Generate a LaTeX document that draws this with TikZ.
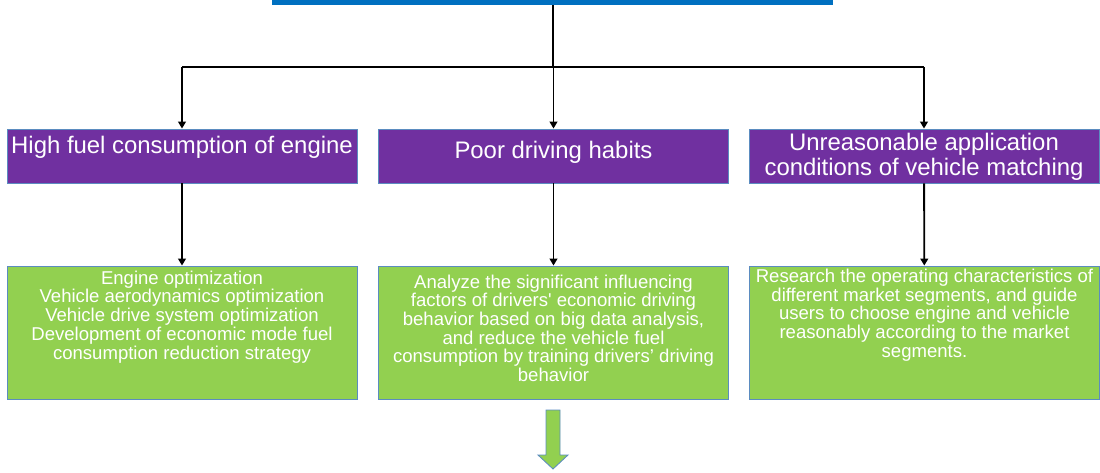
\documentclass[tikz,border=0pt]{standalone}
\usepackage{fontspec}
\setmainfont{Liberation Sans}
\usetikzlibrary{arrows.meta, positioning}

\definecolor{barblue}{HTML}{0070C0}
\definecolor{causepurple}{HTML}{7030A0}
\definecolor{measuregreen}{HTML}{92D050}
\definecolor{boxline}{HTML}{5B8CC0}

\begin{document}
\begin{tikzpicture}[
    x=0.025cm, y=-0.025cm,
    cause/.style={draw=boxline, line width=0.6pt, fill=causepurple, minimum width=8.75cm, minimum height=1.35cm, inner sep=0pt},
    measure/.style={draw=boxline, line width=0.6pt, fill=measuregreen, minimum width=8.75cm, minimum height=3.325cm, inner sep=0pt},
    causetext/.style={text=white, font=\fontsize{17}{17.8}\selectfont, align=center, inner sep=0pt},
    measuretext/.style={text=white, font=\fontsize{13.2}{13.3}\selectfont, align=center, inner sep=0pt},
    link/.style={line width=1.3pt},
    arr/.style={link, -{Triangle[length=5pt, width=5.5pt]}}
  ]
    \clip (0,0) rectangle (1100,473);

    % top bar (only its lower edge is on the page)
    \node[fill=barblue, minimum width=14.025cm, minimum height=0.5cm, inner sep=0pt] (topbar) at (552.5,-5) {};

    % causes
    \node[cause] (c1) at (182,156) {};
    \node[cause] (c2) at (553.5,156) {};
    \node[cause] (c3) at (924,156) {};
    \node[causetext] (t1) at (182,147) {High fuel consumption of engine};
    \node[causetext] (t2) at (553.5,152.5) {Poor driving habits};
    \node[causetext] (t3) at (924,156.5) {Unreasonable application\\conditions of vehicle matching};

    % measures
    \node[measure] (g1) at (182,332.5) {};
    \node[measure] (g2) at (553.5,332.5) {};
    \node[measure] (g3) at (924.5,332.5) {};
    \node[measuretext, anchor=north, below=0.125cm of g1.north] (m1) {Engine optimization\\Vehicle aerodynamics optimization\\Vehicle drive system optimization\\Development of economic mode fuel\\consumption reduction strategy};
    \node[measuretext, anchor=north, below=0.22cm of g2.north] (m2) {Analyze the significant influencing\\factors of drivers\textquotesingle{} economic driving\\behavior based on big data analysis,\\and reduce the vehicle fuel\\consumption by training drivers’ driving\\behavior};
    \node[measuretext, anchor=north, below=0.08cm of g3.north] (m3) {Research the operating characteristics of\\different market segments, and guide\\users to choose engine and vehicle\\reasonably according to the market\\segments.};

    % tree connectors
    \coordinate (split) at (553,67);
    \draw[link] (split |- topbar.south) -- (split);
    \draw[link] (c1.north |- split) -- (c3.north |- split);
    \draw[arr] (c1.north |- split) -- (c1.north);
    \draw[arr] (c2.north |- split) -- (c2.north);
    \draw[arr] (c3.north |- split) -- (c3.north);
    \draw[arr] (c1) -- (g1);
    \draw[arr] (c2) -- (g2);
    \draw[arr] (c3) -- (g3);

    % block arrow under the middle column
    \draw[draw=boxline, line width=0.6pt, fill=measuregreen]
      (546,410) -- (560,410) -- (560,455) -- (568,455) -- (553,469) -- (538,455) -- (546,455) -- cycle;
\end{tikzpicture}
\end{document}
